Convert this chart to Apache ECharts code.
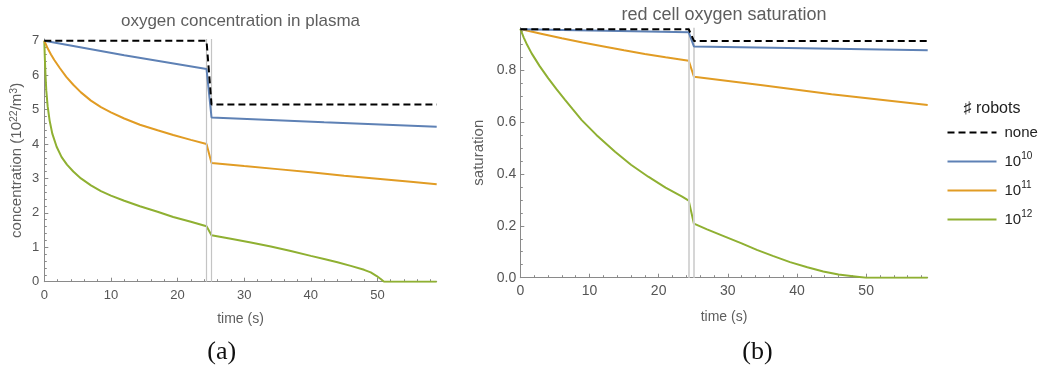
<!DOCTYPE html>
<html>
<head>
<meta charset="utf-8">
<script src="https://cdn.jsdelivr.net/npm/echarts@6/dist/echarts.min.js"></script>
<style>
  html, body { margin: 0; padding: 0; background: #fff; }
  #chart { width: 1042px; height: 368px; }
</style>
</head>
<body>
<div id="chart"></div>
<script>
// Times in seconds; the two vertical guides mark the interval of the step change.
const switchTimes = [24.35, 25.1];
const timeMax = 58.9;

// Oxygen concentration in plasma (10^22 / m^3), [time, value]
const plasmaNone = [[0, 7.0], [24.35, 7.0], [25.1, 5.15], [58.9, 5.15]];
const plasma1e10 = [[0, 7.0], [12, 6.58], [24.35, 6.18], [25.1, 4.77], [42, 4.63], [58.9, 4.5]];
const plasma1e11 = [
  [0, 7.0], [0.5, 6.78], [1, 6.6], [1.5, 6.44], [2.35, 6.2], [3.3, 5.95], [4.35, 5.72],
  [5.5, 5.5], [7, 5.26], [8.5, 5.07], [10, 4.92], [12, 4.74], [14.35, 4.56], [17, 4.4],
  [19.35, 4.26], [22, 4.12], [24.35, 4.0], [25.1, 3.45], [30, 3.36], [35, 3.27],
  [40, 3.18], [45, 3.08], [50, 2.99], [55, 2.9], [58.9, 2.83]
];
const plasma1e12 = [
  [0, 7.0], [0.08, 6.5], [0.18, 6.0], [0.3, 5.55], [0.5, 5.1], [0.8, 4.68], [1.2, 4.3],
  [1.85, 3.92], [2.6, 3.62], [3.4, 3.4], [4.35, 3.2], [5.5, 3.0], [7, 2.8],
  [8.5, 2.63], [10, 2.5], [12, 2.35], [14.35, 2.19], [17, 2.03], [19.35, 1.88],
  [22, 1.74], [24.35, 1.61], [25.1, 1.35], [28, 1.25], [31, 1.14], [34, 1.025],
  [37, 0.89], [40, 0.75], [42, 0.66], [44, 0.565], [46, 0.46], [48, 0.345], [49, 0.27],
  [49.9, 0.165], [50.5, 0.08], [51, 0], [58.9, 0]
];

// Red cell oxygen saturation (fraction), [time, value]
const satNone = [[0, 0.957], [24.35, 0.957], [25.1, 0.912], [58.9, 0.912]];
const sat1e10 = [[0, 0.957], [24.35, 0.945], [25.1, 0.891], [58.9, 0.876]];
const sat1e11 = [
  [0, 0.958], [3, 0.94], [6, 0.922], [9, 0.906], [12.26, 0.89], [15, 0.876], [18, 0.862],
  [21, 0.849], [24.35, 0.836], [25.1, 0.774], [35, 0.741], [45, 0.707], [58.9, 0.665]
];
const sat1e12 = [
  [0, 0.958], [0.5, 0.925], [1, 0.896], [1.64, 0.864], [2.8, 0.815], [4.05, 0.768],
  [5.2, 0.727], [6.47, 0.685], [7.6, 0.648], [8.88, 0.607], [11, 0.55], [13.7, 0.485],
  [16, 0.435], [18.5, 0.389], [21, 0.347], [23.4, 0.312], [24.35, 0.297], [25.1, 0.208],
  [27, 0.186], [29.4, 0.16], [32, 0.132], [34.2, 0.107], [36.5, 0.084], [39, 0.06],
  [41.5, 0.04], [43.8, 0.024], [46, 0.012], [48.7, 0.004], [50, 0], [58.9, 0]
];

// Axis ticks
const timeTicks = [0, 10, 20, 30, 40, 50];
const plasmaTicks = [0, 1, 2, 3, 4, 5, 6, 7];
const satTicks = [0, 0.2, 0.4, 0.6, 0.8];
const plasmaMax = 7.05;
const satMax = 0.963;

// Legend entries
const legendNames = ['none', '10^10', '10^11', '10^12'];
const legendTitle = '\u266F robots';
const seriesColors = ['#000000', '#5e81b5', '#e19c24', '#8fb032'];

function minorTicks(step, maxVal, majorStep) {
  const out = [];
  for (let i = 1; i * step < maxVal; i++) {
    const v = Math.round(i * step * 1000) / 1000;
    if (Math.abs(v / majorStep - Math.round(v / majorStep)) > 1e-6) out.push(v);
  }
  return out;
}

const AXIS_GRAY = '#8a8a8a';
const LABEL_GRAY = '#555555';
const NAME_GRAY = '#5e5e5e';
const FONT = 'Liberation Sans, Arial, sans-serif';

function mainAxis(opts) {
  return Object.assign({
    type: 'value',
    axisLine: { show: true, onZero: false, lineStyle: { color: AXIS_GRAY, width: 1 } },
    axisTick: { show: true, inside: true, length: 4, customValues: opts.ticks, lineStyle: { color: AXIS_GRAY, width: 1 } },
    axisLabel: { customValues: opts.ticks, fontSize: opts.fontSize || 13, color: LABEL_GRAY, margin: opts.margin, formatter: opts.fmt },
    splitLine: { show: false },
    nameLocation: 'middle',
    nameTextStyle: {
      fontSize: 14, color: NAME_GRAY, fontFamily: FONT,
      rich: {
        n: { fontSize: 15, lineHeight: 18, color: NAME_GRAY, fontFamily: FONT },
        s: { fontSize: 10.5, lineHeight: 9, verticalAlign: 'top', color: NAME_GRAY, fontFamily: FONT }
      }
    }
  }, opts.extra);
}
function minorAxis(opts) {
  return Object.assign({
    type: 'value',
    axisLine: { show: false },
    axisTick: { show: true, inside: true, length: 2.5, customValues: opts.ticks, lineStyle: { color: AXIS_GRAY, width: 1 } },
    axisLabel: { show: false },
    splitLine: { show: false }
  }, opts.extra);
}

const xAxes = [
  mainAxis({ ticks: timeTicks, margin: 7, fmt: v => String(v),
    extra: { gridIndex: 0, position: 'bottom', min: 0, max: timeMax, name: 'time (s)', nameGap: 30 } }),
  minorAxis({ ticks: minorTicks(2, timeMax, 10), extra: { gridIndex: 0, position: 'bottom', min: 0, max: timeMax } }),
  mainAxis({ ticks: timeTicks, margin: 6, fontSize: 14, fmt: v => String(v),
    extra: { gridIndex: 1, position: 'bottom', min: 0, max: timeMax, name: 'time (s)', nameGap: 32 } }),
  minorAxis({ ticks: minorTicks(2, timeMax, 10), extra: { gridIndex: 1, position: 'bottom', min: 0, max: timeMax } })
];
const yAxes = [
  mainAxis({ ticks: plasmaTicks, margin: 5, fmt: v => String(v),
    extra: { gridIndex: 0, position: 'left', min: 0, max: plasmaMax,
      name: '{n|concentration (10}{s|22}{n|/m}{s|3}{n|)}', nameGap: 18 } }),
  minorAxis({ ticks: minorTicks(0.2, plasmaMax, 1), extra: { gridIndex: 0, position: 'left', min: 0, max: plasmaMax } }),
  mainAxis({ ticks: satTicks, margin: 4, fontSize: 14, fmt: v => v.toFixed(1),
    extra: { gridIndex: 1, position: 'left', min: 0, max: satMax, name: '{n|saturation}', nameGap: 32 } }),
  minorAxis({ ticks: minorTicks(0.05, satMax, 0.2), extra: { gridIndex: 1, position: 'left', min: 0, max: satMax } })
];

function curve(name, data, xi, yi, idx) {
  return {
    type: 'line', name: name, data: data, xAxisIndex: xi, yAxisIndex: yi,
    showSymbol: false, symbol: 'none', smooth: false, z: 3 + (3 - idx),
    color: seriesColors[idx],
    lineStyle: { color: seriesColors[idx], width: 2, type: idx === 0 ? [7, 4] : 'solid' },
    emphasis: { disabled: true }
  };
}
function guides(xi, yi, color, width) {
  return {
    type: 'line', name: 'guides', data: [], xAxisIndex: xi, yAxisIndex: yi, z: 1,
    markLine: {
      silent: true, symbol: ['none', 'none'], animation: false,
      label: { show: false },
      lineStyle: { color: color, width: width, type: 'solid' },
      emphasis: { disabled: true },
      data: switchTimes.map(t => ({ xAxis: t }))
    }
  };
}

const plasmaSeries = [plasmaNone, plasma1e10, plasma1e11, plasma1e12];
const satSeries = [satNone, sat1e10, sat1e11, sat1e12];

const series = [guides(0, 0, '#c4c4c4', 1.2), guides(2, 2, '#d2d2d2', 1.8)];
plasmaSeries.forEach((d, i) => series.push(curve(legendNames[i], d, 0, 0, i)));
satSeries.forEach((d, i) => series.push(curve(legendNames[i], d, 2, 2, i)));

const chart = echarts.init(document.getElementById('chart'), null, { renderer: 'canvas' });
chart.setOption({
  animation: false,
  backgroundColor: '#ffffff',
  textStyle: { fontFamily: FONT },
  grid: [
    { left: 44.3, top: 39, width: 392.4, height: 242.7 },
    { left: 520.3, top: 27.7, width: 407.4, height: 250 }
  ],
  xAxis: xAxes,
  yAxis: yAxes,
  legend: {
    orient: 'vertical', left: 941.5, top: 120,
    itemWidth: 49, itemHeight: 14, itemGap: 11.5,
    data: legendNames, selectedMode: false,
    itemStyle: { opacity: 0, borderWidth: 0 },
    formatter: name => {
      const parts = name.split('^');
      return parts.length === 2 ? '{b|' + parts[0] + '}{s|' + parts[1] + '}' : '{b|' + name + '}';
    },
    textStyle: {
      fontFamily: FONT, color: '#222',
      rich: {
        b: { fontSize: 15, lineHeight: 20, color: '#222', padding: [0, 0, 0, 3], fontFamily: FONT },
        s: { fontSize: 10, lineHeight: 9, verticalAlign: 'top', color: '#222', fontFamily: FONT }
      }
    }
  },
  graphic: [
    { type: 'text', x: 240.5, y: 21.7, style: { text: 'oxygen concentration in plasma', fontSize: 17, fontFamily: FONT, fill: '#5e5e5e', align: 'center', verticalAlign: 'middle' } },
    { type: 'text', x: 724, y: 15.5, style: { text: 'red cell oxygen saturation', fontSize: 18, fontFamily: FONT, fill: '#5e5e5e', align: 'center', verticalAlign: 'middle' } },
    { type: 'text', x: 992, y: 109, style: { text: legendTitle, fontSize: 16, fontFamily: FONT, fill: '#222', align: 'center', verticalAlign: 'middle' } },
    { type: 'text', x: 221.7, y: 351.7, style: { text: '(a)', fontSize: 26, fontFamily: 'Liberation Serif, serif', fill: '#111', align: 'center', verticalAlign: 'middle' } },
    { type: 'text', x: 757.5, y: 351.7, style: { text: '(b)', fontSize: 26, fontFamily: 'Liberation Serif, serif', fill: '#111', align: 'center', verticalAlign: 'middle' } }
  ],
  series: series
});
</script>
</body>
</html>
